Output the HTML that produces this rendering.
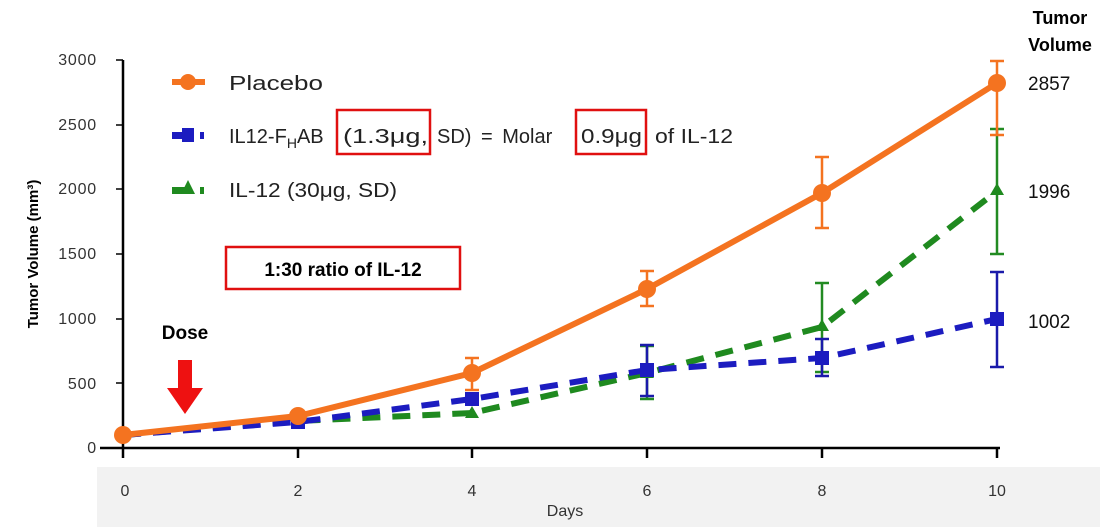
<!DOCTYPE html>
<html><head><style>
body{margin:0;background:#fff;}
svg{display:block;font-family:"Liberation Sans",sans-serif;}
</style></head><body>
<svg width="1100" height="527" viewBox="0 0 1100 527">
<rect x="97" y="467" width="1003" height="60" fill="#f2f2f2"/>
<line x1="123" y1="60" x2="123" y2="449" stroke="#000" stroke-width="2.5"/>
<line x1="100" y1="448" x2="1000" y2="448" stroke="#000" stroke-width="2.5"/>
<g stroke="#000" stroke-width="1.5">
<line x1="116" y1="60" x2="123" y2="60"/><line x1="116" y1="125" x2="123" y2="125"/><line x1="116" y1="189" x2="123" y2="189"/><line x1="116" y1="254" x2="123" y2="254"/><line x1="116" y1="319" x2="123" y2="319"/><line x1="116" y1="383" x2="123" y2="383"/>
</g>
<g stroke="#000" stroke-width="2.5">
<line x1="123" y1="448" x2="123" y2="458"/><line x1="298" y1="448" x2="298" y2="458"/><line x1="472" y1="448" x2="472" y2="458"/><line x1="647" y1="448" x2="647" y2="458"/><line x1="822" y1="448" x2="822" y2="458"/><line x1="997" y1="448" x2="997" y2="458"/>
</g>
<g font-size="16" fill="#333" text-anchor="end" letter-spacing="0.8">
<text x="97" y="65">3000</text><text x="97" y="130">2500</text><text x="97" y="194">2000</text><text x="97" y="259">1500</text><text x="97" y="324">1000</text><text x="97" y="389">500</text><text x="97" y="453">0</text>
</g>
<g font-size="16" fill="#333" text-anchor="middle">
<text x="125" y="496">0</text><text x="298" y="496">2</text><text x="472" y="496">4</text><text x="647" y="496">6</text><text x="822" y="496">8</text><text x="997" y="496">10</text>
<text x="565" y="516">Days</text>
</g>
<text transform="translate(38,254) rotate(-90)" font-size="15" font-weight="bold" text-anchor="middle">Tumor Volume (mm³)</text>
<g font-size="18" text-anchor="middle" font-weight="bold"><text x="1060" y="24">Tumor</text><text x="1060" y="51">Volume</text></g>
<g font-size="19" fill="#111"><text x="1028" y="90">2857</text><text x="1028" y="198">1996</text><text x="1028" y="328">1002</text></g>
<g stroke="#228b22" stroke-width="2.5" fill="none">
<path d="M647 399V346M640 399h14M640 346h14M822 372V283M815 372h14M815 283h14M997 254V129M990 254h14M990 129h14"/>
</g>
<g stroke="#1a1aaa" stroke-width="2.5" fill="none">
<path d="M647 396V345M640 396h14M640 345h14M822 376V339M815 376h14M815 339h14M997 367V272M990 367h14M990 272h14"/>
</g>
<g stroke="#f47320" stroke-width="2.5" fill="none">
<path d="M472 390V358M465 390h14M465 358h14M647 306V271M640 306h14M640 271h14M822 228V157M815 228h14M815 157h14M997 135V61M990 135h14M990 61h14"/>
</g>
<polyline points="123,435 298,421 472,413 647,373 822,327 997,191" fill="none" stroke="#1f8a1f" stroke-width="6" stroke-dasharray="18,12"/>
<polyline points="123,435 298,422 472,399 647,370 822,358 997,319" fill="none" stroke="#1c1cc0" stroke-width="6" stroke-dasharray="18,12"/>
<polyline points="123,435 298,416 472,373 647,289 822,193 997,83" fill="none" stroke="#f47320" stroke-width="6"/>
<g fill="#1f8a1f"><path d="M298,414 l7,12 h-14z M472,406 l7,12 h-14z M647,366 l7,12 h-14z M822,319 l7,12 h-14z M997,183 l7,12 h-14z"/></g>
<g fill="#1c1cc0"><rect x="291" y="415" width="14" height="14"/><rect x="465" y="392" width="14" height="14"/><rect x="640" y="363" width="14" height="14"/><rect x="815" y="351" width="14" height="14"/><rect x="990" y="312" width="14" height="14"/></g>
<g fill="#f47320"><circle cx="123" cy="435" r="9"/><circle cx="298" cy="416" r="9"/><circle cx="472" cy="373" r="9"/><circle cx="647" cy="289" r="9"/><circle cx="822" cy="193" r="9"/><circle cx="997" cy="83" r="9"/></g>
<line x1="172" y1="82" x2="205" y2="82" stroke="#f47320" stroke-width="6"/><circle cx="188" cy="82" r="8" fill="#f47320"/>
<rect x="172" y="132" width="18" height="7" fill="#1c1cc0"/><rect x="182" y="128" width="12" height="14" fill="#1c1cc0"/><rect x="200" y="132" width="4" height="7" fill="#1c1cc0"/>
<rect x="172" y="187" width="18" height="7" fill="#1f8a1f"/><path d="M188,180 l7,14 h-14z" fill="#1f8a1f"/><rect x="200" y="187" width="4" height="7" fill="#1f8a1f"/>
<g font-size="20" fill="#222">
<text x="229" y="90" textLength="94" lengthAdjust="spacingAndGlyphs">Placebo</text>
<text x="229" y="143">IL12-F<tspan font-size="14" dy="5">H</tspan><tspan dy="-5">AB</tspan></text>
<text x="343" y="143" textLength="85" lengthAdjust="spacingAndGlyphs">(1.3μg,</text>
<text x="437" y="143" word-spacing="4">SD) = Molar</text>
<text x="581" y="143" textLength="61" lengthAdjust="spacingAndGlyphs">0.9μg</text>
<text x="655" y="143" textLength="78" lengthAdjust="spacingAndGlyphs">of IL-12</text>
<text x="229" y="197" textLength="168" lengthAdjust="spacingAndGlyphs">IL-12 (30μg, SD)</text>
</g>
<rect x="337" y="110" width="93" height="44" fill="none" stroke="#e01010" stroke-width="2.5"/>
<rect x="576" y="110" width="70" height="44" fill="none" stroke="#e01010" stroke-width="2.5"/>
<rect x="226" y="247" width="234" height="42" fill="none" stroke="#e01010" stroke-width="2.5"/>
<text x="343" y="276" font-size="19" font-weight="bold" text-anchor="middle">1:30 ratio of IL-12</text>
<text x="185" y="339" font-size="19" font-weight="bold" text-anchor="middle">Dose</text>
<path d="M178,360 h14 v28 h11 l-18,26 l-18,-26 h11z" fill="#ee1111"/>
</svg>
</body></html>
